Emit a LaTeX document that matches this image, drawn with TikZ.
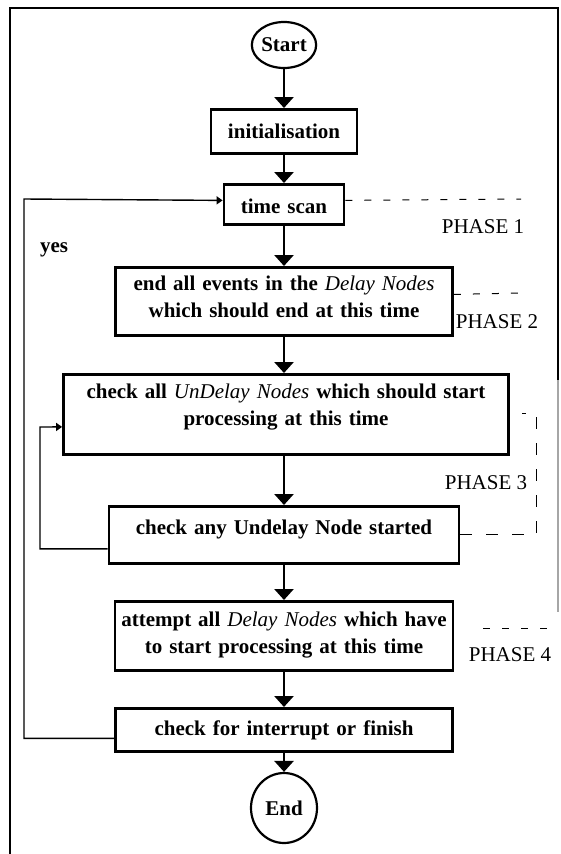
\documentclass[tikz,border=0pt]{standalone}
\usepackage{fontspec}
\setmainfont{Liberation Serif}
\usetikzlibrary{arrows.meta, shapes.geometric}

\begin{document}
\begin{tikzpicture}[x=1pt, y=-1pt,
    box/.style={draw, line width=2.8pt, inner sep=0pt, anchor=north, align=center,
        font=\fontsize{21}{27.5}\selectfont\bfseries},
    term/.style={ellipse, draw, line width=2.2pt, inner sep=0pt,
        font=\fontsize{21}{25}\selectfont\bfseries},
    flow/.style={line width=2.8pt, -{Triangle[width=19pt, length=11pt]}},
    back/.style={line width=1.4pt, -{Triangle[width=8pt, length=6pt]}},
    phaseline/.style={line width=1pt, dash pattern=on 7pt off 12pt},
    phase/.style={font=\fontsize{21}{25}\selectfont}]
        \useasboundingbox (0, 0) rectangle (560, 854);
        \draw[line width=2pt] (10, 854) -- (10, 8) -- (558, 8) -- (558, 380);
        \draw[line width=1.5pt, black!35] (558, 380) -- (558, 612);

        \node[term, minimum width=64pt, minimum height=46pt] (start) at (284, 45) {Start};
        \node[box, text width=146pt, text height=29pt, text depth=15pt] (init) at (284, 108) {initialisation};
        \node[box, text width=120pt, text height=29pt, text depth=11pt] (scan) at (284, 183) {time scan};
        \node[box, text width=337pt, text height=23pt, text depth=45pt] (ends) at (284, 266)
            {end all events in the {\mdseries\itshape Delay Nodes}\\ which should end at this time};
        \node[box, text width=445pt, text height=24pt, text depth=56pt] (undel) at (286, 373)
            {check all {\mdseries\itshape UnDelay Nodes} which should start\\ processing at this time};
        \node[box, text width=350pt, text height=28pt, text depth=29pt] (check) at (284, 505)
            {check any Undelay Node started};
        \node[box, text width=338pt, text height=25pt, text depth=44pt] (tries) at (284, 600)
            {attempt all {\mdseries\itshape Delay Nodes} which have\\ to start processing at this time};
        \node[box, text width=337pt, text height=27pt, text depth=16pt] (stop) at (284, 707)
            {check for interrupt or finish};
        \node[term, minimum width=66pt, minimum height=70pt] (finish) at (284, 808) {End};

        \draw[flow] (start) -- (init);
        \draw[flow] (init) -- (scan);
        \draw[flow] (scan) -- (ends);
        \draw[flow] (ends) -- (ends |- undel.north);
        \draw[flow] (undel.south -| check) -- (check);
        \draw[flow] (check) -- (tries);
        \draw[flow] (tries) -- (stop);
        \draw[flow] (stop) -- (finish);

        % loops back
        \coordinate (l1) at (24, 199);
        \coordinate (l2) at (40, 427);
        \draw[back] ([yshift=-8.5pt]stop.west) -| (l1) -- ([yshift=4pt]scan.west);
        \draw[back] ([yshift=-14pt]check.west) -| (l2) -- ([yshift=-12.5pt]undel.west);
        \node[font=\fontsize{21}{25}\selectfont\bfseries] (yes) at (54, 250) {yes};

        % phases
        \coordinate (q1) at (521, 199);
        \coordinate (q2) at (522, 293);
        \coordinate (q3) at (536, 413);
        \coordinate (q3b) at (522, 413);
        \coordinate (q4a) at (483, 628);
        \coordinate (q4b) at (548, 628);
        \draw[phaseline] ([yshift=4pt]scan.east) -- (q1);
        \draw[phaseline] ([yshift=7pt]ends.east) -- (q2);
        \draw[phaseline, dash pattern=on 12pt off 14pt] (check.east) -| (q3) -- (q3b);
        \draw[phaseline] (q4a) -- (q4b);
        \node[phase] (p1) at (483, 227) {PHASE 1};
        \node[phase] (p2) at (497, 322) {PHASE 2};
        \node[phase] (p3) at (486, 483) {PHASE 3};
        \node[phase] (p4) at (510, 655) {PHASE 4};
\end{tikzpicture}
\end{document}
